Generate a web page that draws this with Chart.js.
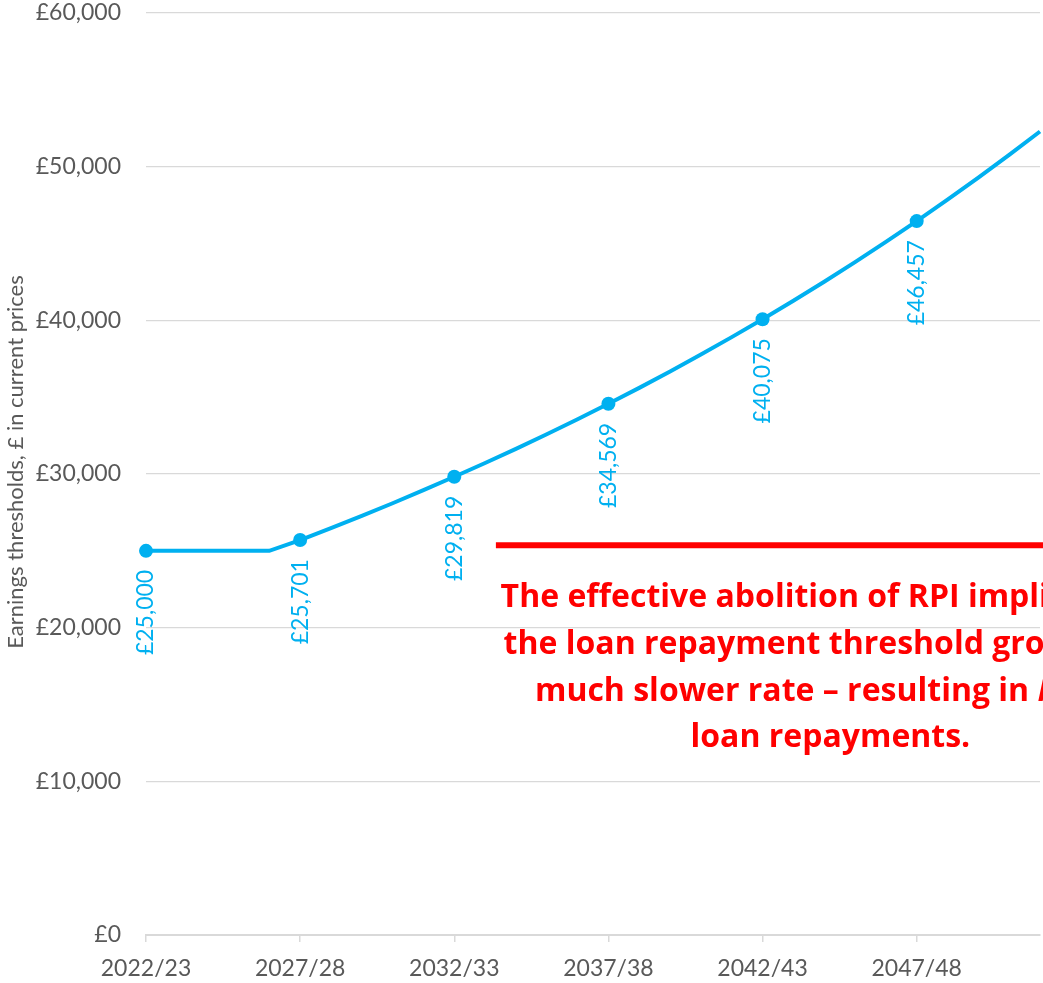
<!DOCTYPE html>
<html>
<head>
<meta charset="utf-8">
<script src="https://cdn.jsdelivr.net/npm/chart.js@4"></script>
<style>
  body { margin: 0; background: #fff; overflow: hidden; }
</style>
</head>
<body>
<canvas id="thresholdChart" width="1047" height="983"></canvas>
<script>
const years = [
  '2022/23', '2023/24', '2024/25', '2025/26', '2026/27',
  '2027/28', '2028/29', '2029/30', '2030/31', '2031/32',
  '2032/33', '2033/34', '2034/35', '2035/36', '2036/37',
  '2037/38', '2038/39', '2039/40', '2040/41', '2041/42',
  '2042/43', '2043/44', '2044/45', '2045/46', '2046/47',
  '2047/48', '2048/49', '2049/50', '2050/51', '2051/52'
];
const thresholds = [
  25000, 25000, 25000, 25000, 25000,
  25701, 26476, 27275, 28098, 28946,
  29819, 30713, 31634, 32583, 33561,
  34569, 35606, 36674, 37774, 38907,
  40075, 41277, 42515, 43791, 45105,
  46457, 47851, 49287, 50765, 52288
];
// years that get a marker, a value label and an axis label
const labelledYears = ['2022/23', '2027/28', '2032/33', '2037/38', '2042/43', '2047/48'];
const yTicks = [0, 10000, 20000, 30000, 40000, 50000, 60000];
const yTitle = 'Earnings thresholds, \u00A3 in current prices';

const noteLevel = 25360;
const noteLines = [
  ['The effective abolition of RPI implies that', ''],
  ['the loan repayment threshold grows at a', ''],
  ['much slower rate \u2013 resulting in ', 'MORE'],
  ['loan repayments.', '']
];

const blue = '#00B0F0';
const grey = '#595959';
const gridGrey = '#D9D9D9';
const font = 'Lato, Calibri, sans-serif';
const noteFont = '"Open Sans", Calibri, sans-serif';

const isLabelled = i => labelledYears.includes(years[i]);
const pounds = v => '\u00A3' + v.toLocaleString('en-GB');

const valueLabels = {
  id: 'valueLabels',
  afterDatasetsDraw(chart) {
    const ctx = chart.ctx;
    const meta = chart.getDatasetMeta(0);
    ctx.save();
    ctx.font = '23px ' + font;
    ctx.fillStyle = blue;
    ctx.textAlign = 'right';
    ctx.textBaseline = 'middle';
    meta.data.forEach((pt, i) => {
      if (!isLabelled(i)) return;
      ctx.save();
      ctx.translate(pt.x, pt.y + 19);
      ctx.rotate(-Math.PI / 2);
      ctx.fillText(pounds(thresholds[i]), 0, 0);
      ctx.restore();
    });
    ctx.restore();
  }
};

// rotated axis title, sitting a little above the middle of the axis
const axisTitle = {
  id: 'axisTitle',
  afterDraw(chart) {
    const ctx = chart.ctx;
    const area = chart.chartArea;
    ctx.save();
    ctx.translate(16, (area.top + area.bottom) / 2 - 12);
    ctx.rotate(-Math.PI / 2);
    ctx.font = '22px ' + font;
    ctx.fillStyle = grey;
    ctx.textAlign = 'center';
    ctx.textBaseline = 'middle';
    ctx.fillText(yTitle, 0, 0);
    ctx.restore();
  }
};

// red rule and the explanatory note under it
const note = {
  id: 'note',
  afterDraw(chart) {
    const ctx = chart.ctx;
    const x = chart.scales.x, y = chart.scales.y;
    const lineY = y.getPixelForValue(noteLevel);
    ctx.save();
    ctx.strokeStyle = '#FF0000';
    ctx.lineWidth = 6;
    ctx.beginPath();
    ctx.moveTo(x.getPixelForValue(11.35), lineY);
    ctx.lineTo(chart.width + 200, lineY);
    ctx.stroke();

    const cx = x.getPixelForValue(22.2);
    const plain = 'bold 32px ' + noteFont;
    const ital = 'italic bold 32px ' + noteFont;
    ctx.fillStyle = '#FF0000';
    ctx.textAlign = 'left';
    ctx.textBaseline = 'alphabetic';
    noteLines.forEach(([a, b], i) => {
      ctx.font = plain;
      const wa = ctx.measureText(a).width;
      ctx.font = ital;
      const wb = ctx.measureText(b).width;
      const left = cx - (wa + wb) / 2;
      const base = lineY + 62 + i * 46.7;
      ctx.font = plain;
      ctx.fillText(a, left, base);
      ctx.font = ital;
      ctx.fillText(b, left + wa, base);
    });
    ctx.restore();
  }
};

new Chart(document.getElementById('thresholdChart'), {
  type: 'line',
  data: {
    labels: years,
    datasets: [{
      data: thresholds,
      borderColor: blue,
      backgroundColor: blue,
      borderWidth: 4,
      pointRadius: years.map((_, i) => isLabelled(i) ? 7 : 0),
      pointHoverRadius: 0,
      pointBorderWidth: 0,
      tension: 0
    }]
  },
  options: {
    responsive: false,
    animation: false,
    layout: { padding: { top: 13, right: 0, left: 0, bottom: 0 } },
    plugins: {
      legend: { display: false },
      tooltip: { enabled: false }
    },
    scales: {
      x: {
        grid: {
          drawOnChartArea: false,
          drawTicks: true,
          tickLength: 7,
          color: ctx => isLabelled(ctx.index) ? gridGrey : 'rgba(0,0,0,0)',
          lineWidth: 1.5
        },
        border: { color: gridGrey, width: 2 },
        ticks: {
          autoSkip: false,
          maxRotation: 0,
          padding: 13,
          color: grey,
          font: { family: font, size: 23 },
          callback: (v, i) => isLabelled(i) ? years[i] : ''
        },
        afterFit: s => {
          s.height = 48;
          s.paddingLeft = 0;
          s.paddingRight = 0;
        }
      },
      y: {
        min: yTicks[0],
        max: yTicks[yTicks.length - 1],
        afterBuildTicks: s => { s.ticks = yTicks.map(v => ({ value: v })); },
        grid: { color: gridGrey, lineWidth: 1.3, drawTicks: false },
        border: { display: false },
        ticks: {
          padding: 25,
          color: grey,
          font: { family: font, size: 23 },
          callback: v => pounds(v)
        },
        afterFit: s => {
          s.width = 146;
          s.paddingTop = 0;
          s.paddingBottom = 0;
        }
      }
    }
  },
  plugins: [valueLabels, axisTitle, note]
});
</script>
</body>
</html>
